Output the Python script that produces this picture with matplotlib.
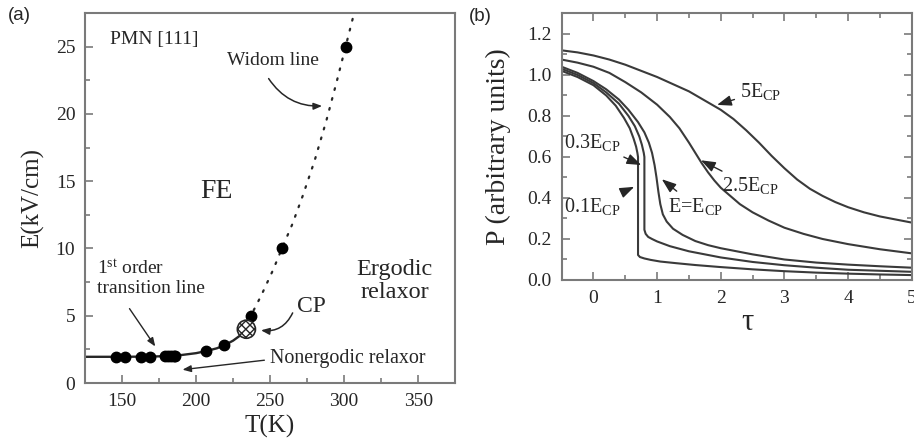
import matplotlib
matplotlib.use("Agg")
import matplotlib.pyplot as plt
from matplotlib.ticker import MultipleLocator, FormatStrFormatter

plt.rcParams["font.family"] = "Liberation Serif"
plt.rcParams["mathtext.fontset"] = "custom"
plt.rcParams["mathtext.rm"] = "Liberation Serif"
plt.rcParams["mathtext.it"] = "Liberation Serif:italic"

# ---- panel (a): PMN [111] phase diagram ----
T_pts = [146, 152, 163, 169, 179, 181, 183, 185, 186, 207, 219, 237, 258, 301]
E_pts = [1.96, 1.96, 1.96, 1.96, 1.98, 1.98, 1.98, 1.98, 1.98, 2.38, 2.83, 5.0, 10.0, 25.0]
T_cp, E_cp = 234, 4.0

# first order transition line (solid)
T_first = [125, 150, 170, 180, 190, 200, 207, 214, 219, 225, 230, 234]
E_first = [1.95, 1.95, 1.97, 2.0, 2.08, 2.22, 2.38, 2.58, 2.8, 3.15, 3.55, 4.0]
# Widom line (dotted)
T_widom = [234, 237, 244, 252, 258, 265, 272, 280, 288, 295, 301, 307]
E_widom = [4.0, 5.0, 6.5, 8.4, 10.0, 11.8, 13.9, 16.5, 19.5, 22.4, 25.0, 27.6]

# ---- panel (b): polarization vs tau ----
tau_5 = [-0.5, -0.25, 0, 0.25, 0.5, 0.75, 1.0, 1.25, 1.5, 1.75, 2.0, 2.2, 2.4, 2.6, 2.8,
         3.0, 3.2, 3.4, 3.6, 3.8, 4.0, 4.25, 4.5, 4.75, 5.0]
P_5 = [1.12, 1.11, 1.095, 1.075, 1.05, 1.02, 0.99, 0.955, 0.92, 0.875, 0.83, 0.785, 0.73, 0.67, 0.605,
       0.545, 0.49, 0.445, 0.41, 0.38, 0.355, 0.33, 0.31, 0.295, 0.28]
tau_25 = [-0.5, -0.25, 0, 0.25, 0.5, 0.75, 1.0, 1.2, 1.35, 1.5, 1.6, 1.7, 1.8, 1.9, 2.0,
          2.15, 2.3, 2.5, 2.75, 3.0, 3.3, 3.6, 4.0, 4.5, 5.0]
P_25 = [1.075, 1.06, 1.04, 1.01, 0.965, 0.915, 0.855, 0.795, 0.74, 0.67, 0.62, 0.57, 0.525, 0.485, 0.45,
        0.41, 0.37, 0.33, 0.29, 0.255, 0.225, 0.2, 0.175, 0.15, 0.13]
tau_1 = [-0.5, -0.25, 0, 0.2, 0.4, 0.55, 0.7, 0.8, 0.87, 0.92, 0.96, 0.99, 1.02, 1.05, 1.09,
         1.15, 1.25, 1.4, 1.6, 1.8, 2.0, 2.5, 3.0, 3.5, 4.0, 4.5, 5.0]
P_1 = [1.04, 1.01, 0.97, 0.93, 0.88, 0.83, 0.77, 0.72, 0.67, 0.62, 0.56, 0.5, 0.43, 0.37, 0.32,
       0.285, 0.25, 0.22, 0.19, 0.17, 0.155, 0.125, 0.1, 0.085, 0.075, 0.067, 0.06]
tau_03 = [-0.5, -0.25, 0, 0.2, 0.4, 0.55, 0.65, 0.72, 0.76, 0.79, 0.8, 0.8, 0.82, 0.86, 0.92,
          1.0, 1.2, 1.5, 2.0, 2.5, 3.0, 3.5, 4.0, 4.5, 5.0]
P_03 = [1.03, 1.0, 0.96, 0.915, 0.86, 0.8, 0.75, 0.7, 0.66, 0.62, 0.6, 0.245, 0.225, 0.21, 0.2,
        0.188, 0.165, 0.14, 0.11, 0.088, 0.072, 0.06, 0.05, 0.045, 0.04]
tau_01 = [-0.5, -0.25, 0, 0.2, 0.35, 0.48, 0.57, 0.63, 0.67, 0.69, 0.7, 0.7, 0.73, 0.8, 0.9,
          1.05, 1.3, 1.6, 2.0, 2.5, 3.0, 3.5, 4.0, 4.5, 5.0]
P_01 = [1.02, 0.99, 0.95, 0.9, 0.85, 0.79, 0.74, 0.69, 0.65, 0.62, 0.6, 0.122, 0.112, 0.105, 0.098,
        0.09, 0.082, 0.073, 0.063, 0.052, 0.043, 0.036, 0.031, 0.027, 0.024]

ink = "#262626"
spine = "#7a7a7a"

fig = plt.figure(figsize=(9.14, 4.48), dpi=100)
ax1 = fig.add_axes([0.093, 0.145, 0.405, 0.826])
ax2 = fig.add_axes([0.6145, 0.375, 0.383, 0.595])

for ax in (ax1, ax2):
    for s in ax.spines.values():
        s.set_color(spine)
        s.set_linewidth(1.5)
    ax.tick_params(which="both", direction="in", color=spine, labelsize=14, labelcolor=ink, width=1.2)
    ax.tick_params(which="major", length=6, pad=7)
    ax.tick_params(which="minor", length=3.5)

# panel (a)
ax1.plot(T_first, E_first, color=ink, lw=1.7)
ax1.plot(T_widom, E_widom, color=ink, lw=1.6, linestyle=(0, (0.8, 3.8)), dash_capstyle="round")
ax1.plot(T_pts, E_pts, "o", color="black", markersize=7.5)
ax1.scatter([T_cp], [E_cp], s=170, facecolors="white", edgecolors=ink, hatch="xxxx", linewidths=1.2, zorder=3)
ax1.set_xlim(125, 375)
ax1.set_ylim(0, 27.5)
ax1.xaxis.set_major_locator(MultipleLocator(50))
ax1.xaxis.set_minor_locator(MultipleLocator(25))
ax1.yaxis.set_major_locator(MultipleLocator(5))
ax1.yaxis.set_minor_locator(MultipleLocator(2.5))
ax1.set_xlabel("T(K)", fontsize=18, color=ink, labelpad=4)
ax1.set_ylabel("E(kV/cm)", fontsize=18, color=ink, labelpad=8)

ax1.text(142, 25.5, "PMN [111]", fontsize=14, color=ink, va="center")
ax1.text(221, 24.0, "Widom line", fontsize=14, color=ink, va="center")
ax1.annotate("", xy=(287, 20.6), xytext=(248, 22.8),
             arrowprops=dict(arrowstyle="-|>,head_length=0.5,head_width=0.2", color=ink, lw=1.1,
                             connectionstyle="arc3,rad=0.3"))
ax1.text(214, 14.2, "FE", fontsize=20, color=ink, ha="center", va="center")
ax1.text(334, 7.6, "Ergodic\nrelaxor", fontsize=17.5, color=ink, ha="center", va="center", linespacing=1.1)
ax1.text(268, 5.7, "CP", fontsize=17, color=ink, va="center")
ax1.annotate("", xy=(242, 3.95), xytext=(266, 5.4),
             arrowprops=dict(arrowstyle="-|>,head_length=0.5,head_width=0.2", color=ink, lw=1.1,
                             connectionstyle="arc3,rad=-0.4"))
ax1.text(133, 7.85, "1$^{\\mathrm{st}}$ order\ntransition line", fontsize=14, color=ink, va="center", linespacing=1.15)
ax1.annotate("", xy=(173.5, 2.55), xytext=(154, 5.7),
             arrowprops=dict(arrowstyle="-|>,head_length=0.5,head_width=0.2", color=ink, lw=1.0))
ax1.text(250, 1.85, "Nonergodic relaxor", fontsize=14.4, color=ink, va="center")
ax1.annotate("", xy=(189, 0.97), xytext=(248, 1.72),
             arrowprops=dict(arrowstyle="-|>,head_length=0.5,head_width=0.2", color=ink, lw=1.0))

# panel (b)
for tau, P in [(tau_5, P_5), (tau_25, P_25), (tau_1, P_1), (tau_03, P_03), (tau_01, P_01)]:
    ax2.plot(tau, P, color="#3a3a3a", lw=1.5)
ax2.set_xlim(-0.5, 5)
ax2.set_ylim(0, 1.3)
ax2.xaxis.set_major_locator(MultipleLocator(1))
ax2.xaxis.set_minor_locator(MultipleLocator(0.5))
ax2.yaxis.set_major_locator(MultipleLocator(0.2))
ax2.yaxis.set_minor_locator(MultipleLocator(0.1))
ax2.yaxis.set_major_formatter(FormatStrFormatter("%.1f"))
ax2.tick_params(which="both", top=True, right=True)
ax2.set_xlabel("τ", fontsize=22, color=ink, labelpad=1)
ax2.xaxis.label.set_x(0.53)
ax2.set_ylabel("P (arbitrary units)", fontsize=20, color=ink, labelpad=12)

arw = dict(arrowstyle="-|>,head_length=0.6,head_width=0.22", color=ink, lw=1.0)
ax2.annotate("5E$_{\\mathrm{CP}}$", xy=(1.9, 0.85), xytext=(2.3, 0.92), fontsize=14.5, color=ink,
             va="center", arrowprops=arw)
ax2.annotate("2.5E$_{\\mathrm{CP}}$", xy=(1.65, 0.59), xytext=(2.02, 0.46), fontsize=14.5, color=ink,
             va="center", arrowprops=arw)
ax2.annotate("E=E$_{\\mathrm{CP}}$", xy=(1.04, 0.5), xytext=(1.17, 0.36), fontsize=14.5, color=ink,
             va="center", arrowprops=arw)
ax2.annotate("0.3E$_{\\mathrm{CP}}$", xy=(0.79, 0.555), xytext=(-0.46, 0.67), fontsize=14.5, color=ink,
             va="center", arrowprops=arw)
ax2.annotate("0.1E$_{\\mathrm{CP}}$", xy=(0.68, 0.46), xytext=(-0.46, 0.36), fontsize=14.5, color=ink,
             va="center", arrowprops=arw)

fig.text(0.009, 0.955, "(a)", fontsize=13.5, family="Liberation Sans", color=ink)
fig.text(0.513, 0.953, "(b)", fontsize=13.5, family="Liberation Sans", color=ink)

fig.savefig("out.png", dpi=100)
